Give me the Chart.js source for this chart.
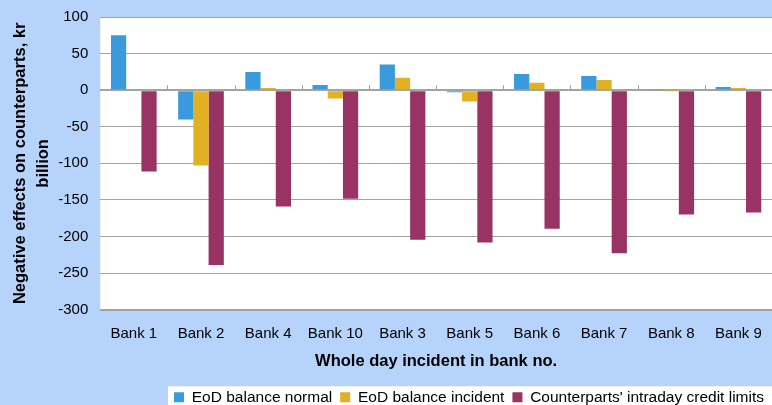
<!DOCTYPE html>
<html>
<head>
<meta charset="utf-8">
<script src="https://cdn.jsdelivr.net/npm/chart.js@4"></script>
<style>
  html, body { margin: 0; padding: 0; background: #b5d3fb; }
  #wrap { width: 772px; height: 405px; overflow: hidden; }
</style>
</head>
<body>
<div id="wrap"><canvas id="barCanvas" width="772" height="405"></canvas></div>
<script>
const banks = ["Bank 1", "Bank 2", "Bank 4", "Bank 10", "Bank 3", "Bank 5", "Bank 6", "Bank 7", "Bank 8", "Bank 9"];
const eodNormal = [75, -40, 25, 7, 35, -3, 22, 19.5, 1, 4.5];
const eodIncident = [1, -103, 3, -11.5, 17, -15.5, 10, 14, -0.5, 3];
const creditLimits = [-111, -239, -159, -148.5, -204.5, -208, -189.5, -223, -170, -167];
const yTicks = [100, 50, 0, -50, -100, -150, -200, -250, -300];

const FONT = "'Liberation Sans', Arial, sans-serif";

// Blue page, white plot area, white box behind the legend
const backdrop = {
  id: "backdrop",
  beforeDraw(chart) {
    const { ctx, chartArea: a, legend } = chart;
    ctx.save();
    ctx.fillStyle = "#b5d3fb";
    ctx.fillRect(0, 0, chart.width, chart.height);
    ctx.fillStyle = "#ffffff";
    ctx.fillRect(a.left, a.top, a.right - a.left, a.bottom - a.top);
    if (legend && legend.legendItems.length) {
      const hb = legend.legendHitBoxes;
      const x0 = hb[0].left - 6;
      const yc = hb[0].top + hb[0].height / 2;
      ctx.fillRect(x0, yc - 11, chart.width - x0, chart.height - yc + 11);
    }
    ctx.restore();
  },
  // small tick marks between categories on the zero line
  afterDraw(chart) {
    const { ctx } = chart;
    const x = chart.scales.x, y = chart.scales.y;
    const y0 = y.getPixelForValue(0);
    const step = (x.right - x.left) / banks.length;
    ctx.save();
    ctx.strokeStyle = "#a0a0a0";
    ctx.lineWidth = 1;
    for (let i = 1; i < banks.length; i++) {
      const px = Math.round(x.left + i * step) + 0.5;
      ctx.beginPath();
      ctx.moveTo(px, y0 - 5);
      ctx.lineTo(px, y0);
      ctx.stroke();
    }
    ctx.restore();
  }
};

new Chart(document.getElementById("barCanvas"), {
  type: "bar",
  data: {
    labels: banks,
    datasets: [
      { label: "EoD balance normal", data: eodNormal, backgroundColor: "#3a9bdc" },
      { label: "EoD balance incident", data: eodIncident, backgroundColor: "#e1b121" },
      { label: "Counterparts' intraday credit limits", data: creditLimits, backgroundColor: "#993363" }
    ]
  },
  options: {
    responsive: false,
    animation: false,
    devicePixelRatio: 1,
    layout: { padding: { top: 17, right: 0, left: 9, bottom: -10 } },
    datasets: { bar: { categoryPercentage: 0.68, barPercentage: 1.0 } },
    scales: {
      x: {
        afterFit(scale) { scale.paddingLeft = 0; scale.paddingRight = 0; },
        grid: { display: false, drawTicks: false },
        border: { display: false },
        ticks: { color: "#000", font: { family: FONT, size: 15 }, padding: 15 },
        title: {
          display: true,
          text: "Whole day incident in bank no.",
          color: "#000",
          font: { family: FONT, size: 16.5, weight: "bold" },
          padding: { top: -6, bottom: 10 }
        }
      },
      y: {
        min: -300,
        max: 100,
        afterBuildTicks(scale) { scale.ticks = yTicks.map(v => ({ value: v })); },
        afterFit(scale) { scale.paddingTop = 0; scale.paddingBottom = 0; },
        grid: {
          color: "#a3a3a3",
          lineWidth: c => (c.tick && (c.tick.value === 0 || c.tick.value === -300) ? 2 : 1),
          drawTicks: false
        },
        border: { display: false },
        ticks: { color: "#000", font: { family: FONT, size: 15 }, padding: 12 },
        title: {
          display: true,
          text: ["Negative effects on counterparts, kr", "billion"],
          color: "#000",
          font: { family: FONT, size: 16.5, weight: "bold", lineHeight: 1.4 },
          padding: { top: 0, bottom: -9 }
        }
      }
    },
    plugins: {
      legend: {
        position: "bottom",
        align: "end",
        labels: {
          color: "#000",
          font: { family: FONT, size: 15.5 },
          boxWidth: 10,
          boxHeight: 10,
          padding: 8
        }
      },
      tooltip: { enabled: false }
    }
  },
  plugins: [backdrop]
});
</script>
</body>
</html>
